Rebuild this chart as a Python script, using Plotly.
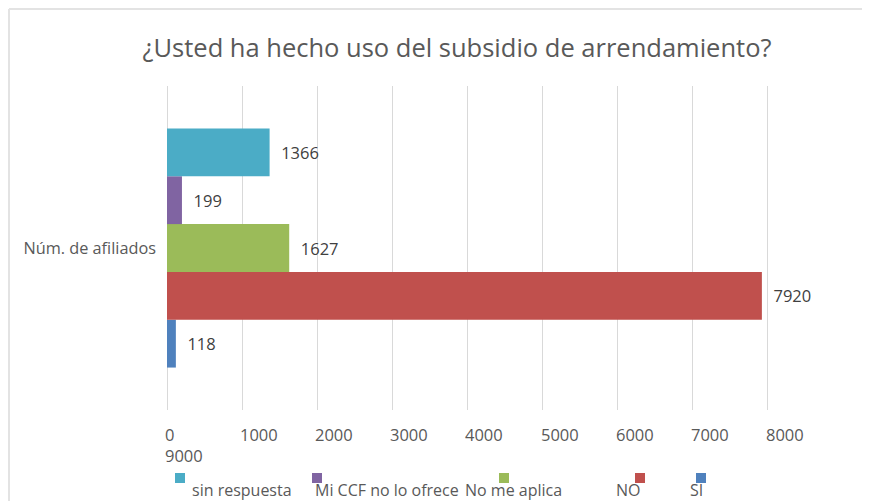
import plotly.graph_objects as go

# ---- data ----
title = "¿Usted ha hecho uso del subsidio de arrendamiento?"
category = "Núm. de afiliados"
series_names = ["sin respuesta", "Mi CCF no lo ofrece", "No me aplica", "NO", "SI"]
series_values = [1366, 199, 1627, 7920, 118]
series_colors = ["#4BACC6", "#8064A2", "#9BBB59", "#C0504D", "#4F81BD"]
tick_values = [0, 1000, 2000, 3000, 4000, 5000, 6000, 7000, 8000, 9000]
tick_labels = ["0", "1000", "2000", "3000", "4000", "5000", "6000", "7000", "8000", "9000"]

# ---- layout geometry (page pixels; the page body adds an 8px offset) ----
OFF = 8
W, H = 870 - OFF, 501 - OFF
PL, PR, PT, PB = 167, 843, 86, 410  # plot area in page pixels
FONT = "Open Sans"
TXT = "#595959"


def px(xp):
    return (xp - PL) / (PR - PL)


def py(yp):
    return (PB - yp) / (PB - PT)


fig = go.Figure()
# plotly places grouped horizontal bars bottom-up, so add in reverse
for name, val, col in reversed(list(zip(series_names, series_values, series_colors))):
    fig.add_trace(go.Bar(
        y=[category], x=[val], name=name, orientation="h",
        marker=dict(color=col, line=dict(width=0)),
        text=[val], texttemplate="\u00a0\u00a0%{x}", textposition="outside",
        textfont=dict(family=FONT, size=16.5, color="#404040"),
        cliponaxis=False, showlegend=False,
    ))

annotations = []
# x tick labels (left aligned; the last one wraps under the first, like the original)
first_label = tick_labels[0] + "<br>" + tick_labels[-1]
for v, lab in zip(tick_values[:-1], [first_label] + tick_labels[1:-1]):
    annotations.append(dict(x=v, xref="x", y=py(421), yref="paper",
                            text=lab, showarrow=False, xanchor="left", yanchor="top",
                            align="left", xshift=-4,
                            font=dict(family=FONT, size=16.5, color=TXT)))

# custom legend
leg_sq_x = [175, 312, 499, 635, 696]
leg_tx_x = [190, 313, 463, 614, 688]
shapes = []
for name, col, sx, tx in zip(series_names, series_colors, leg_sq_x, leg_tx_x):
    shapes.append(dict(type="rect", xref="paper", yref="paper",
                       x0=px(sx), x1=px(sx + 10), y0=py(483), y1=py(473),
                       fillcolor=col, line=dict(width=0)))
    annotations.append(dict(x=px(tx), xref="paper", y=py(490), yref="paper",
                            text=name, showarrow=False, xanchor="left", yanchor="middle",
                            font=dict(family=FONT, size=16, color=TXT)))

# chart frame lines
shapes.append(dict(type="line", xref="paper", yref="paper", x0=px(9), x1=px(870),
                   y0=py(9), y1=py(9), line=dict(color="#E3E3E3", width=2)))
shapes.append(dict(type="line", xref="paper", yref="paper", x0=px(9), x1=px(9),
                   y0=py(9), y1=py(501), line=dict(color="#E3E3E3", width=2)))

fig.update_layout(
    width=W, height=H,
    margin=dict(l=PL - OFF, r=W - (PR - OFF), t=PT - OFF, b=H - (PB - OFF), pad=0),
    paper_bgcolor="white", plot_bgcolor="white",
    title=dict(text=title, xref="container", x=(457 - OFF) / W, xanchor="center",
               yref="container", y=1 - (48 - OFF) / H, yanchor="middle",
               font=dict(family=FONT, size=25.5, color=TXT)),
    barmode="group", bargap=0.262, bargroupgap=0,
    xaxis=dict(range=[0, 9000], tickvals=tick_values, showticklabels=False,
               showgrid=True, gridcolor="#D9D9D9", gridwidth=1,
               zeroline=True, zerolinecolor="#D9D9D9", zerolinewidth=1,
               showline=False, fixedrange=True),
    yaxis=dict(showgrid=False, zeroline=False, showline=False,
               ticklabelstandoff=10,
               tickfont=dict(family=FONT, size=16.3, color=TXT)),
    annotations=annotations, shapes=shapes,
    font=dict(family=FONT, color=TXT),
)

fig.write_html("out.html")
